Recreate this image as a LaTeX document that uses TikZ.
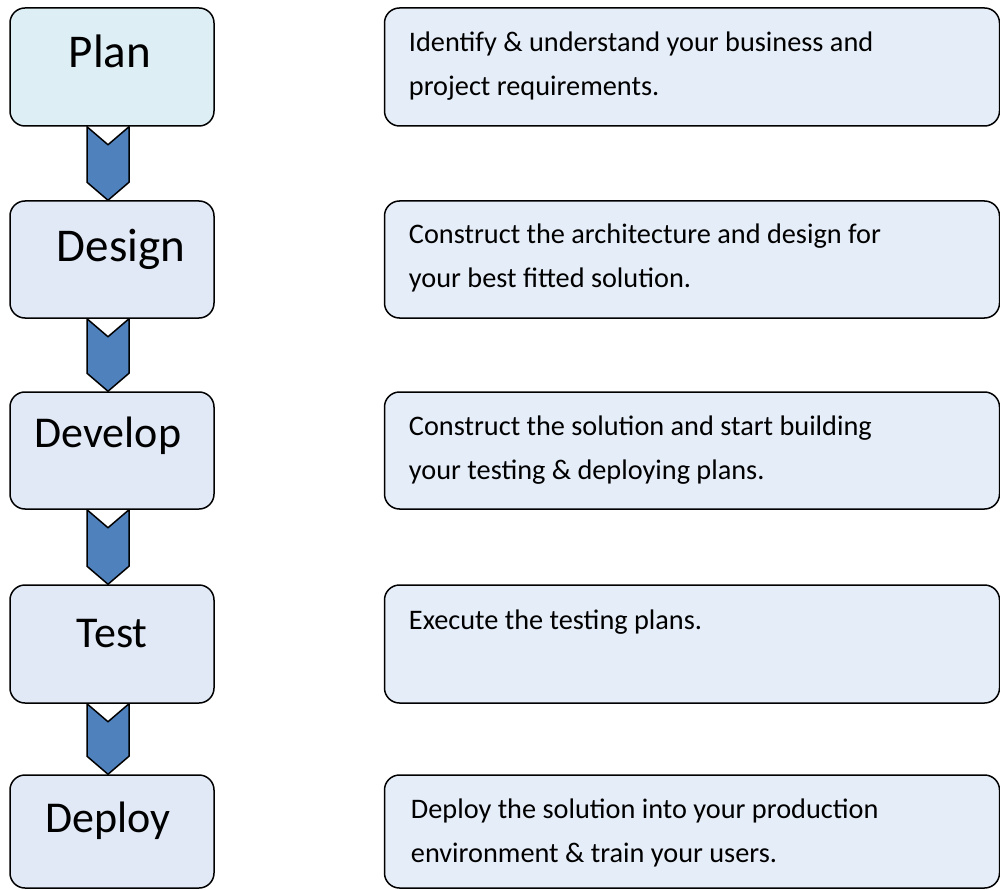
\documentclass[tikz,border=0pt]{standalone}
\usepackage{fontspec}
\setmainfont{Carlito}
\usepackage[dvipsnames]{xcolor}
\usetikzlibrary{positioning}

\definecolor{planfill}{HTML}{DDEEF4}
\definecolor{stagefill}{HTML}{E0E9F5}
\definecolor{descfill}{HTML}{E5EDF8}
\definecolor{chevfill}{HTML}{4F81BD}

\begin{document}
\begin{tikzpicture}[x=1pt,y=-1pt,line join=round,
    stage/.style={draw,line width=1.5pt,rounded corners=15pt,fill=stagefill,minimum width=204pt,minimum height=117pt,inner sep=0pt},
    desc/.style={draw,line width=1.5pt,rounded corners=15pt,fill=descfill,minimum width=615pt,minimum height=117pt,inner sep=0pt},
    stagename/.style={anchor=base,inner sep=0pt,font=\fontsize{44}{44}\selectfont},
    desctext/.style={anchor=base west,inner sep=0pt,align=left,font=\fontsize{28.3}{44}\selectfont},
    chev/.style={draw,line width=1.5pt,fill=chevfill}]

    \useasboundingbox (0,0) rectangle (1000,890);

    % left column
    \node[stage,fill=planfill,minimum height=118pt] (s1) at (112,67) {};
    \node[stage] (s2) at (112,259.5) {};
    \node[stage] (s3) at (112,450.5) {};
    \node[stage,minimum height=118pt] (s4) at (112,644) {};
    \node[stage,minimum height=113pt] (s5) at (112,831.5) {};

    \node[stagename,font=\fontsize{47}{47}\selectfont] (n1) at (110,68) {Plan};
    \node[stagename,font=\fontsize{47}{47}\selectfont] (n2) at (121,262) {Design};
    \node[stagename] (n3) at (108,447) {Develop};
    \node[stagename] (n4) at (112,647) {Test};
    \node[stagename] (n5) at (108,832) {Deploy};

    % right column
    \node[desc,minimum height=118pt] (d1) [right=169pt of s1] {};
    \node[desc] (d2) [right=169pt of s2] {};
    \node[desc] (d3) [right=169pt of s3] {};
    \node[desc,minimum height=118pt] (d4) [right=169pt of s4] {};
    \node[desc,minimum height=113pt] (d5) [right=169pt of s5] {};

    % base of a two-line text is its last line
    \node[desctext] (t1) at ([xshift=25pt,yshift=-88pt]d1.north west) {Identify \& understand your business and\\project requirements.};
    \node[desctext] (t2) at ([xshift=25pt,yshift=-87pt]d2.north west) {Construct the architecture and design for\\your best fitted solution.};
    \node[desctext] (t3) at ([xshift=25pt,yshift=-88pt]d3.north west) {Construct the solution and start building\\your testing \& deploying plans.};
    \node[desctext] (t4) at ([xshift=25pt,yshift=-45pt]d4.north west) {Execute the testing plans.};
    \node[desctext] (t5) at ([xshift=27pt,yshift=-88pt]d5.north west) {Deploy the solution into your production\\environment \& train your users.};

    % chevrons
    \draw[chev] ([xshift=-25pt]s1.south) -- ([xshift=-4pt,yshift=-18pt]s1.south) -- ([xshift=17pt]s1.south) -- ([xshift=17pt,yshift=18pt]s2.north) -- ([xshift=-4pt]s2.north) -- ([xshift=-25pt,yshift=18pt]s2.north) -- cycle;
    \draw[chev] ([xshift=-25pt]s2.south) -- ([xshift=-4pt,yshift=-18pt]s2.south) -- ([xshift=17pt]s2.south) -- ([xshift=17pt,yshift=18pt]s3.north) -- ([xshift=-4pt]s3.north) -- ([xshift=-25pt,yshift=18pt]s3.north) -- cycle;
    \draw[chev] ([xshift=-25pt]s3.south) -- ([xshift=-4pt,yshift=-18pt]s3.south) -- ([xshift=17pt]s3.south) -- ([xshift=17pt,yshift=18pt]s4.north) -- ([xshift=-4pt]s4.north) -- ([xshift=-25pt,yshift=18pt]s4.north) -- cycle;
    \draw[chev] ([xshift=-25pt]s4.south) -- ([xshift=-4pt,yshift=-18pt]s4.south) -- ([xshift=17pt]s4.south) -- ([xshift=17pt,yshift=18pt]s5.north) -- ([xshift=-4pt]s5.north) -- ([xshift=-25pt,yshift=18pt]s5.north) -- cycle;

    ;
\end{tikzpicture}
\end{document}
